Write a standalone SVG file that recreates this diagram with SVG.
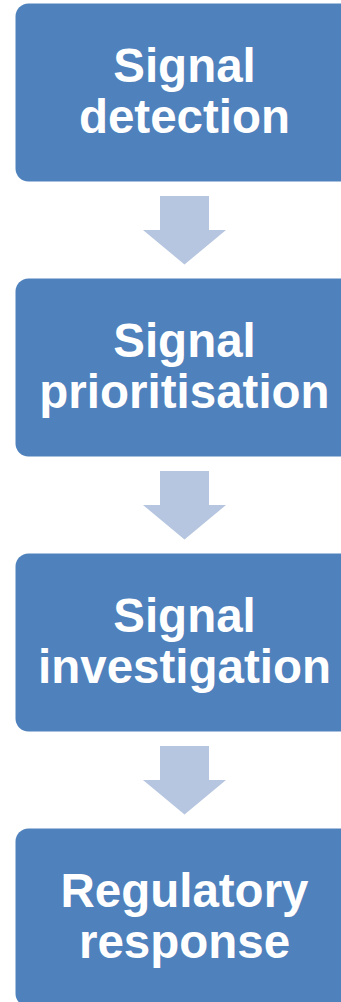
<svg xmlns="http://www.w3.org/2000/svg" width="341" height="1002" viewBox="0 0 341 1002">
<style>
.box{fill:#4F81BD}
.t{font-family:"Liberation Sans",Arial,sans-serif;font-weight:bold;font-size:47.5px;fill:#FFFFFF;text-anchor:middle}
.arr{fill:#B6C6E0}
</style>
<rect width="341" height="1002" fill="#FFFFFF"/>
<g id="connectors">
<polygon class="arr" points="160,196 209,196 209,230 226,230 184.5,264.5 143,230 160,230"/>
<polygon class="arr" points="160,471 209,471 209,505 226,505 184.5,539.5 143,505 160,505"/>
<polygon class="arr" points="160,746 209,746 209,780 226,780 184.5,814.5 143,780 160,780"/>
</g>
<g id="node1">
<rect class="box" x="15.5" y="3.5" width="338" height="178" rx="13"/>
<text class="t" x="184.5" y="82">Signal</text>
<text class="t" x="184.5" y="133">detection</text>
</g>
<g id="node2">
<rect class="box" x="15.5" y="278.5" width="338" height="178" rx="13"/>
<text class="t" x="184.5" y="357">Signal</text>
<text class="t" x="184.5" y="408">prioritisation</text>
</g>
<g id="node3">
<rect class="box" x="15.5" y="553.5" width="338" height="178" rx="13"/>
<text class="t" x="184.5" y="632">Signal</text>
<text class="t" x="184.5" y="683">investigation</text>
</g>
<g id="node4">
<rect class="box" x="15.5" y="828.5" width="338" height="178" rx="13"/>
<text class="t" x="184.5" y="907">Regulatory</text>
<text class="t" x="184.5" y="958">response</text>
</g>
</svg>
